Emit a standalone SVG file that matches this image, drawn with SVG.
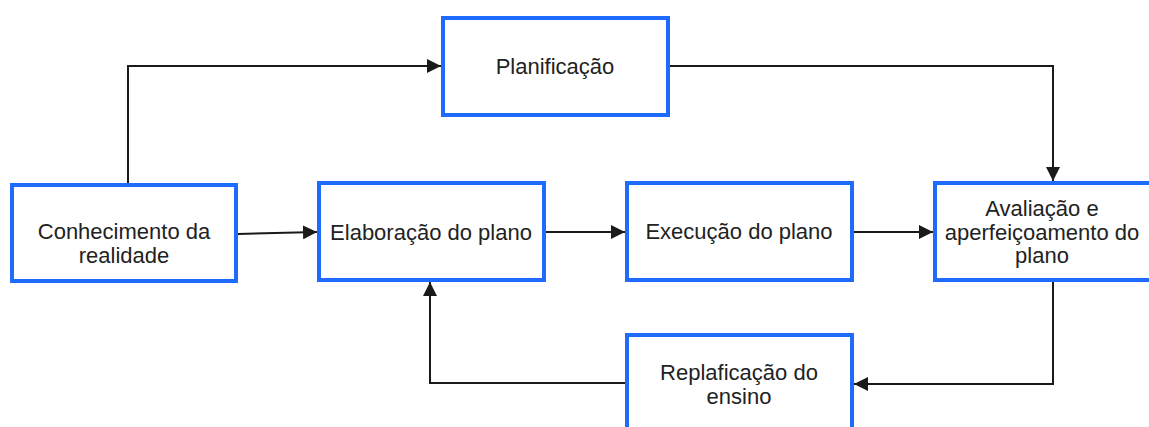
<svg xmlns="http://www.w3.org/2000/svg" width="1149" height="427" viewBox="0 0 1149 427">
<style>
.box{fill:#fff;stroke:#1f6bff;stroke-width:4}
.lbl{font-family:"Liberation Sans",Arial,sans-serif;font-size:22px;fill:#222;text-anchor:middle}
.edge{fill:none;stroke:#1a1a1a;stroke-width:2}
</style>
<defs>
<marker id="ah" markerUnits="userSpaceOnUse" markerWidth="14" markerHeight="14" refX="14" refY="7" orient="auto">
<path d="M0,0 L14,7 L0,14 z" fill="#1a1a1a"/>
</marker>
</defs>
<rect width="1149" height="427" fill="#fff"/>
<g id="connectors">
<path class="edge" d="M128 183 V66 H441" marker-end="url(#ah)"/>
<path class="edge" d="M238 234 L317 232" marker-end="url(#ah)"/>
<path class="edge" d="M546 232 H625" marker-end="url(#ah)"/>
<path class="edge" d="M854 232 H933" marker-end="url(#ah)"/>
<path class="edge" d="M670 66 H1053 V181" marker-end="url(#ah)"/>
<path class="edge" d="M1053 282 V384 H854" marker-end="url(#ah)"/>
<path class="edge" d="M625 383 H430 V282" marker-end="url(#ah)"/>
</g>
<g id="conhecimento">
<rect class="box" x="12" y="185" width="224" height="96"/>
<text class="lbl" x="124" y="239">Conhecimento da</text>
<text class="lbl" x="124" y="263">realidade</text>
</g>
<g id="planificacao">
<rect class="box" x="443" y="18" width="225" height="97"/>
<text class="lbl" x="555" y="74">Planificação</text>
</g>
<g id="elaboracao">
<rect class="box" x="319" y="183" width="225" height="97"/>
<text class="lbl" x="431" y="240">Elaboração do plano</text>
</g>
<g id="execucao">
<rect class="box" x="627" y="183" width="225" height="97"/>
<text class="lbl" x="739" y="239">Execução do plano</text>
</g>
<g id="avaliacao">
<rect class="box" x="935" y="183" width="230" height="97"/>
<text class="lbl" x="1042" y="215.5">Avaliação e</text>
<text class="lbl" x="1042" y="239.5">aperfeiçoamento do</text>
<text class="lbl" x="1042" y="262.5">plano</text>
</g>
<g id="replanificacao">
<rect class="box" x="627" y="335" width="225" height="110"/>
<text class="lbl" x="739" y="380">Replaficação do</text>
<text class="lbl" x="739" y="403.5">ensino</text>
</g>
</svg>
